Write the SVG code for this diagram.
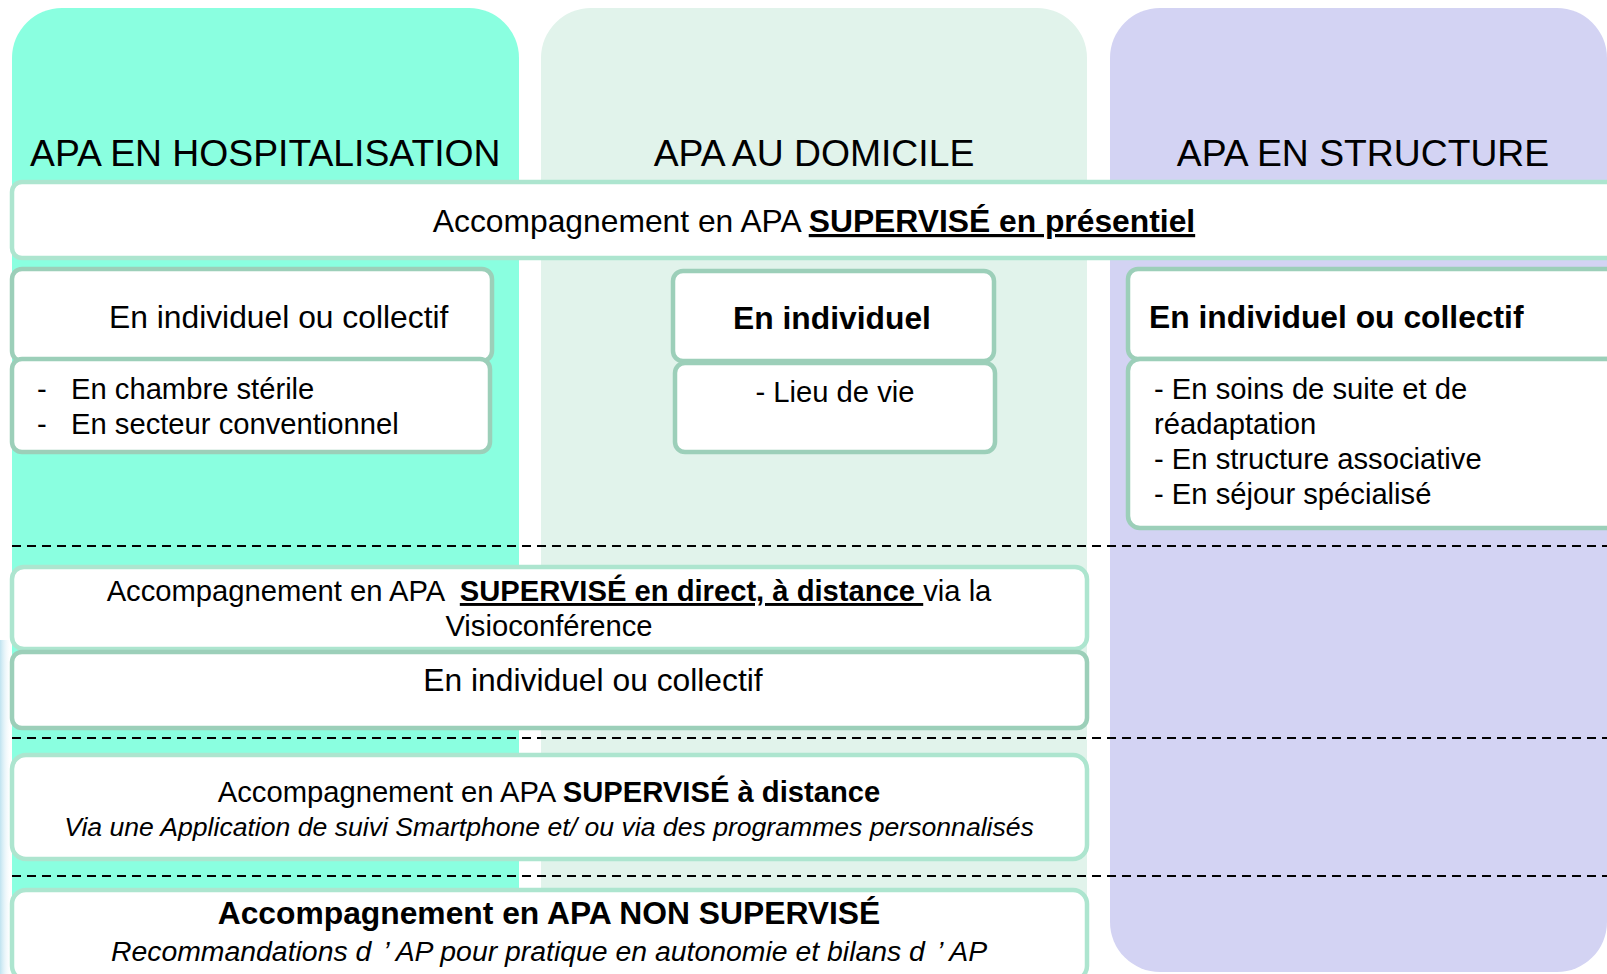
<svg xmlns="http://www.w3.org/2000/svg" width="1607" height="974" viewBox="0 0 1607 974">
<style>
text{font-family:"Liberation Sans",Arial,sans-serif;fill:#000}
.t{font-size:37.3px}
.L{font-size:31.8px}
.S{font-size:29.2px}
.I{font-size:26.6px;font-style:italic}
.R{font-size:28.4px;font-style:italic}
.b{font-weight:bold}
.u{text-decoration:underline}
.bx1{fill:#fff;stroke:#ADE5CF;stroke-width:4.5}
.bx2{fill:#fff;stroke:#9CCFB9;stroke-width:4.5}
.dash{stroke:#000;stroke-width:2;stroke-dasharray:9 6;fill:none}
</style>
<rect width="1607" height="974" fill="#fff"/>
<defs>
<linearGradient id="lg" x1="0" y1="0" x2="1" y2="0">
<stop offset="0" stop-color="#BFE3F0"/>
<stop offset="1" stop-color="#fff" stop-opacity="0"/>
</linearGradient>
</defs>
<rect x="0" y="640" width="12" height="334" fill="url(#lg)"/>
<g id="panels">
<rect id="panel-hosp" x="12" y="8" width="507" height="1000" rx="50" fill="#8AFFE0"/>
<rect id="panel-dom" x="541" y="8" width="546" height="1000" rx="50" fill="#E1F3EB"/>
<rect id="panel-struct" x="1110" y="8" width="497" height="964" rx="50" fill="#D3D3F3"/>
</g>
<g id="titles">
<text class="t" x="30" y="166">APA EN HOSPITALISATION</text>
<text class="t" x="814" y="166" text-anchor="middle">APA AU DOMICILE</text>
<text class="t" x="1363" y="166" text-anchor="middle">APA EN STRUCTURE</text>
</g>
<g id="connectors">
<line class="dash" x1="12" y1="546" x2="1607" y2="546"/>
<line class="dash" x1="12" y1="738" x2="1607" y2="738"/>
<line class="dash" x1="12" y1="876" x2="1607" y2="876"/>
</g>
<g id="presentiel">
<rect class="bx1" x="12" y="182" width="1610" height="76" rx="10"/>
<text class="L" x="814" y="232" text-anchor="middle">Accompagnement en APA <tspan class="b u">SUPERVISÉ en présentiel</tspan></text>
</g>
<g id="hosp-mode">
<rect class="bx2" x="12" y="269" width="480" height="92" rx="10"/>
<text class="L" x="109" y="328">En individuel ou collectif</text>
</g>
<g id="hosp-list">
<rect class="bx2" x="12" y="359" width="478" height="93" rx="10"/>
<text class="S" x="37" y="399">-</text>
<text class="S" x="71" y="399">En chambre stérile</text>
<text class="S" x="37" y="434">-</text>
<text class="S" x="71" y="434">En secteur conventionnel</text>
</g>
<g id="dom-mode">
<rect class="bx2" x="673" y="271" width="321" height="90" rx="10"/>
<text class="L b" x="832" y="329" text-anchor="middle">En individuel</text>
</g>
<g id="dom-list">
<rect class="bx2" x="675" y="363" width="320" height="89" rx="10"/>
<text class="S" x="835" y="402" text-anchor="middle">- Lieu de vie</text>
</g>
<g id="struct-mode">
<rect class="bx2" x="1128" y="269" width="490" height="90" rx="10"/>
<text class="L b" x="1149" y="328">En individuel ou collectif</text>
</g>
<g id="struct-list">
<rect class="bx2" x="1128" y="359" width="490" height="169" rx="12"/>
<text class="S" x="1154" y="399">- En soins de suite et de</text>
<text class="S" x="1154" y="434">réadaptation</text>
<text class="S" x="1154" y="469">- En structure associative</text>
<text class="S" x="1154" y="504">- En séjour spécialisé</text>
</g>
<g id="visio">
<rect class="bx1" x="12" y="567" width="1075" height="82" rx="12"/>
<text class="S" x="549" y="601" text-anchor="middle" xml:space="preserve">Accompagnement en APA  <tspan class="b u">SUPERVISÉ en direct, à distance </tspan>via la</text>
<text class="S" x="549" y="636" text-anchor="middle">Visioconférence</text>
</g>
<g id="visio-mode">
<rect class="bx2" x="12" y="652" width="1075" height="76" rx="10"/>
<text class="L" x="593" y="691" text-anchor="middle">En individuel ou collectif</text>
</g>
<g id="distance">
<rect class="bx1" x="12" y="755" width="1075" height="104" rx="14"/>
<text class="S" x="549" y="802" text-anchor="middle">Accompagnement en APA <tspan class="b">SUPERVISÉ à distance</tspan></text>
<text class="I" x="549" y="836" text-anchor="middle">Via une Application de suivi Smartphone et/ ou via des programmes personnalisés</text>
</g>
<g id="non-supervise">
<rect class="bx1" x="12" y="890" width="1075" height="90" rx="14"/>
<text class="L b" x="549" y="924" text-anchor="middle">Accompagnement en APA NON SUPERVISÉ</text>
<text class="R" x="549" y="961" text-anchor="middle">Recommandations d<tspan dx="12">’</tspan><tspan dx="6">AP pour pratique en autonomie et bilans d</tspan><tspan dx="12">’</tspan><tspan dx="6">AP</tspan></text>
</g>
</svg>
